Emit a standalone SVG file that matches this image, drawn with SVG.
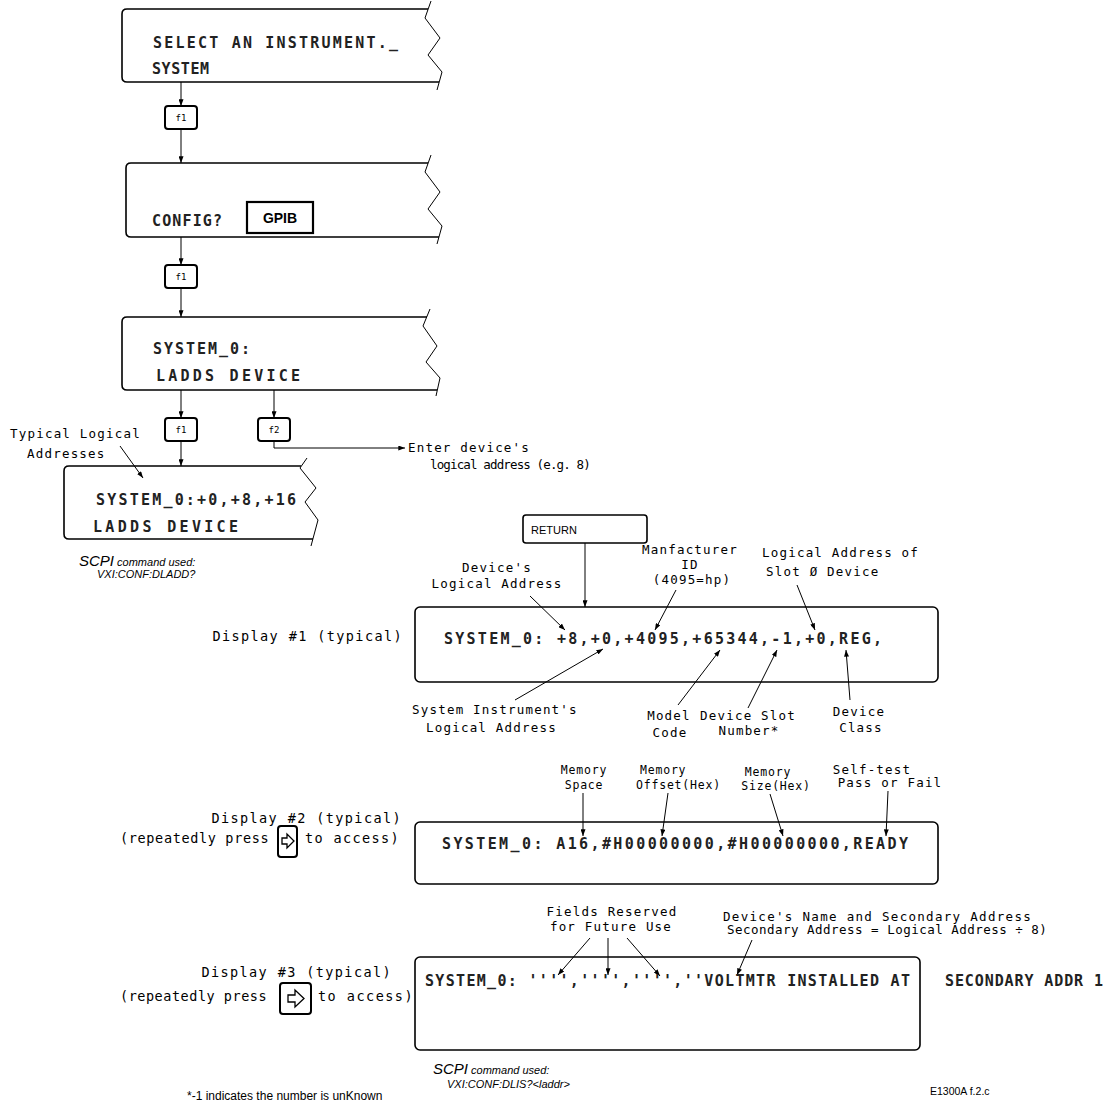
<svg xmlns="http://www.w3.org/2000/svg" width="1106" height="1103" viewBox="0 0 1106 1103">
<style>
.bg{fill:#fff}
.frame{fill:none;stroke:#000;stroke-width:1.6}
.key{fill:#fff;stroke:#000;stroke-width:2}
.ln{fill:none;stroke:#000;stroke-width:1}
.lcd{font-family:"DejaVu Sans Mono",monospace;font-weight:bold;font-size:15px;fill:#222}
.kt{font-family:"DejaVu Sans Mono",monospace;font-size:9px;fill:#000}
.t{font-family:"DejaVu Sans Mono",monospace;font-size:12.5px;letter-spacing:1.2px;fill:#000}
.m{font-family:"DejaVu Sans Mono",monospace;font-size:11.5px;letter-spacing:0.8px;fill:#000}
.d{font-family:"DejaVu Sans Mono",monospace;font-size:13.5px;letter-spacing:1.4px;fill:#000}
.sc{font-family:"Liberation Sans Narrow","Liberation Sans",sans-serif;font-style:italic;fill:#000}
.nr{font-family:"Liberation Sans Narrow","Liberation Sans",sans-serif;font-style:normal;fill:#000}
.ss{font-family:"Liberation Sans",sans-serif;fill:#000}
.mid{text-anchor:middle}
.end{text-anchor:end}
</style>
<defs>
<marker id="ah" viewBox="0 0 8 6" refX="8" refY="3" markerWidth="7" markerHeight="5" markerUnits="userSpaceOnUse" orient="auto">
<path d="M0,0 L8,3 L0,6 z" fill="#000"/>
</marker>
</defs>
<rect class="bg" x="0" y="0" width="1106" height="1103"/>

<g id="connectors">
<line class="ln" x1="181" y1="82" x2="181" y2="106" marker-end="url(#ah)"/>
<line class="ln" x1="181" y1="129" x2="181" y2="163" marker-end="url(#ah)"/>
<line class="ln" x1="181" y1="237" x2="181" y2="265" marker-end="url(#ah)"/>
<line class="ln" x1="181" y1="288" x2="181" y2="317" marker-end="url(#ah)"/>
<line class="ln" x1="181" y1="390" x2="181" y2="418" marker-end="url(#ah)"/>
<line class="ln" x1="181" y1="441" x2="181" y2="466" marker-end="url(#ah)"/>
<line class="ln" x1="274" y1="390" x2="274" y2="418" marker-end="url(#ah)"/>
<polyline class="ln" points="274,441 274,448 405,448" marker-end="url(#ah)"/>
<line class="ln" x1="120" y1="446" x2="143" y2="478" marker-end="url(#ah)"/>
<line class="ln" x1="585" y1="543" x2="585" y2="607" marker-end="url(#ah)"/>
<line class="ln" x1="530" y1="596" x2="565" y2="630" marker-end="url(#ah)"/>
<line class="ln" x1="676" y1="590" x2="655" y2="630" marker-end="url(#ah)"/>
<line class="ln" x1="797" y1="585" x2="815" y2="630" marker-end="url(#ah)"/>
<line class="ln" x1="515" y1="700" x2="603" y2="649" marker-end="url(#ah)"/>
<line class="ln" x1="678" y1="705" x2="720" y2="650" marker-end="url(#ah)"/>
<line class="ln" x1="748" y1="708" x2="777" y2="650" marker-end="url(#ah)"/>
<line class="ln" x1="850" y1="700" x2="846" y2="650" marker-end="url(#ah)"/>
<line class="ln" x1="583" y1="793" x2="583" y2="836" marker-end="url(#ah)"/>
<line class="ln" x1="668" y1="793" x2="662" y2="836" marker-end="url(#ah)"/>
<line class="ln" x1="770" y1="794" x2="783" y2="836" marker-end="url(#ah)"/>
<line class="ln" x1="888" y1="791" x2="886" y2="836" marker-end="url(#ah)"/>
<line class="ln" x1="590" y1="938" x2="558" y2="975" marker-end="url(#ah)"/>
<line class="ln" x1="608" y1="938" x2="608" y2="975" marker-end="url(#ah)"/>
<line class="ln" x1="627" y1="938" x2="660" y2="976" marker-end="url(#ah)"/>
<line class="ln" x1="752" y1="940" x2="737" y2="975" marker-end="url(#ah)"/>
</g>

<g id="box1">
<path class="frame" d="M428,9 L127,9 Q122,9 122,14 L122,77 Q122,82 127,82 L439,82"/>
<polyline class="ln" points="431,1 425,18 440,38 428,55 442,72 437,90"/>
<text class="lcd" x="153" y="48" textLength="245">SELECT AN INSTRUMENT._</text>
<text class="lcd" x="152" y="74" textLength="57">SYSTEM</text>
</g>

<g id="key-f1-a">
<rect class="key" x="165" y="106" width="32" height="23" rx="3"/>
<text class="kt mid" x="181" y="121">f1</text>
</g>

<g id="box2">
<path class="frame" d="M428,163 L131,163 Q126,163 126,168 L126,232 Q126,237 131,237 L439,237"/>
<polyline class="ln" points="431,155 425,172 440,192 428,209 442,226 437,244"/>
<text class="lcd" x="152" y="226" textLength="70">CONFIG?</text>
<rect x="247" y="202" width="66" height="31" fill="none" stroke="#000" stroke-width="2.2"/>
<text class="ss mid" x="280" y="223" font-size="14" font-weight="bold">GPIB</text>
</g>

<g id="key-f1-b">
<rect class="key" x="165" y="265" width="32" height="23" rx="3"/>
<text class="kt mid" x="181" y="280">f1</text>
</g>

<g id="box3">
<path class="frame" d="M427,317 L127,317 Q122,317 122,322 L122,385 Q122,390 127,390 L437,390"/>
<polyline class="ln" points="430,309 423,326 437,346 426,362 440,378 436,396"/>
<text class="lcd" x="153" y="354" textLength="97">SYSTEM_0:</text>
<text class="lcd" x="156" y="381" textLength="144">LADDS  DEVICE</text>
</g>

<g id="key-f1-c">
<rect class="key" x="165" y="418" width="32" height="23" rx="3"/>
<text class="kt mid" x="181" y="433">f1</text>
</g>

<g id="key-f2">
<rect class="key" x="258" y="418" width="32" height="23" rx="3"/>
<text class="kt mid" x="274" y="433">f2</text>
</g>

<g id="enter-note">
<text class="t" x="408" y="452" textLength="122">Enter device's</text>
<text class="t" x="430" y="469" textLength="162">logical address (e.g. 8)</text>
</g>

<g id="typical-note">
<text class="t" x="10" y="438">Typical Logical</text>
<text class="t" x="27" y="458">Addresses</text>
</g>

<g id="box4">
<path class="frame" d="M301,466 L69,466 Q64,466 64,471 L64,534 Q64,539 69,539 L313,539"/>
<polyline class="ln" points="307,458 300,468 316,488 305,502 318,520 311,546"/>
<text class="lcd" x="96" y="505" textLength="200">SYSTEM_0:+0,+8,+16</text>
<text class="lcd" x="93" y="532" textLength="145">LADDS  DEVICE</text>
</g>

<g id="scpi-1">
<text class="sc" x="79" y="566" font-size="15">SCPI<tspan font-size="11"> command used:</tspan></text>
<text class="sc" x="97" y="578" font-size="11">VXI:CONF:DLADD?</text>
</g>

<g id="return-key">
<rect x="523" y="515" width="124" height="28" rx="3" fill="#fff" stroke="#000" stroke-width="1.6"/>
<text class="ss" x="531" y="534" font-size="11">RETURN</text>
</g>

<g id="display1">
<text class="d end" x="403" y="641">Display #1 (typical)</text>
<rect class="frame" x="415" y="607" width="523" height="75" rx="5"/>
<text class="lcd" x="444" y="644" textLength="438">SYSTEM_0: +8,+0,+4095,+65344,-1,+0,REG,</text>
<text class="t mid" x="497" y="572">Device's</text>
<text class="t mid" x="497" y="588">Logical Address</text>
<text class="t mid" x="690" y="554">Manfacturer</text>
<text class="t mid" x="690" y="569">ID</text>
<text class="t mid" x="692" y="584">(4095=hp)</text>
<text class="t" x="762" y="557">Logical Address of</text>
<text class="t" x="766" y="576">Slot Ø Device</text>
<text class="t" x="412" y="714">System Instrument's</text>
<text class="t" x="426" y="732">Logical Address</text>
<text class="t mid" x="669" y="720">Model</text>
<text class="t mid" x="670" y="737">Code</text>
<text class="t mid" x="748" y="720">Device Slot</text>
<text class="t mid" x="749" y="735">Number*</text>
<text class="t mid" x="859" y="716">Device</text>
<text class="t mid" x="861" y="732">Class</text>
</g>

<g id="display2">
<text class="d end" x="402" y="823">Display #2 (typical)</text>
<text class="d" x="120" y="843" textLength="150">(repeatedly press</text>
<rect class="key" x="278" y="826" width="19" height="31" rx="3"/>
<polygon points="282,838 287,838 287,834 294,841 287,848 287,844 282,844" fill="none" stroke="#000" stroke-width="1.3"/>
<text class="d" x="305" y="843" textLength="95">to access)</text>
<rect class="frame" x="415" y="822" width="523" height="62" rx="5"/>
<text class="lcd" x="442" y="849" textLength="466">SYSTEM_0: A16,#H00000000,#H00000000,READY</text>
<text class="m mid" x="584" y="774">Memory</text>
<text class="m mid" x="584" y="789">Space</text>
<text class="m" x="640" y="774">Memory</text>
<text class="m" x="636" y="789">Offset(Hex)</text>
<text class="m mid" x="768" y="776">Memory</text>
<text class="m mid" x="776" y="790">Size(Hex)</text>
<text class="t mid" x="872" y="774">Self-test</text>
<text class="t mid" x="890" y="787">Pass or Fail</text>
</g>

<g id="display3">
<text class="d end" x="392" y="977">Display #3 (typical)</text>
<text class="d" x="120" y="1001" textLength="148">(repeatedly press</text>
<rect class="key" x="280" y="983" width="31" height="31" rx="3"/>
<polygon points="288,995 295,995 295,990 304,998.5 295,1007 295,1002 288,1002" fill="none" stroke="#000" stroke-width="1.3"/>
<text class="d" x="318" y="1001" textLength="96">to access)</text>
<rect class="frame" x="415" y="957" width="505" height="93" rx="5"/>
<text class="lcd" x="425" y="986" textLength="485">SYSTEM_0: '''','''','''',''VOLTMTR INSTALLED AT</text>
<text class="lcd" x="945" y="986" textLength="158">SECONDARY ADDR 1</text>
<text class="t mid" x="612" y="916">Fields Reserved</text>
<text class="t mid" x="611" y="931">for Future Use</text>
<text class="t" x="723" y="921" textLength="309">Device's Name and Secondary Address</text>
<text class="t" x="727" y="934" textLength="321">Secondary Address = Logical Address ÷ 8)</text>
</g>

<g id="scpi-2">
<text class="sc" x="433" y="1074" font-size="15">SCPI<tspan font-size="11"> command used:</tspan></text>
<text class="sc" x="447" y="1088" font-size="11">VXI:CONF:DLIS?&lt;laddr&gt;</text>
</g>

<g id="figure-id">
<text class="nr" x="930" y="1095" font-size="10.5">E1300A f.2.c</text>
</g>

<g id="footnote">
<text class="nr" x="187" y="1100" font-size="12">*-1 indicates the number is unKnown</text>
</g>
</svg>
